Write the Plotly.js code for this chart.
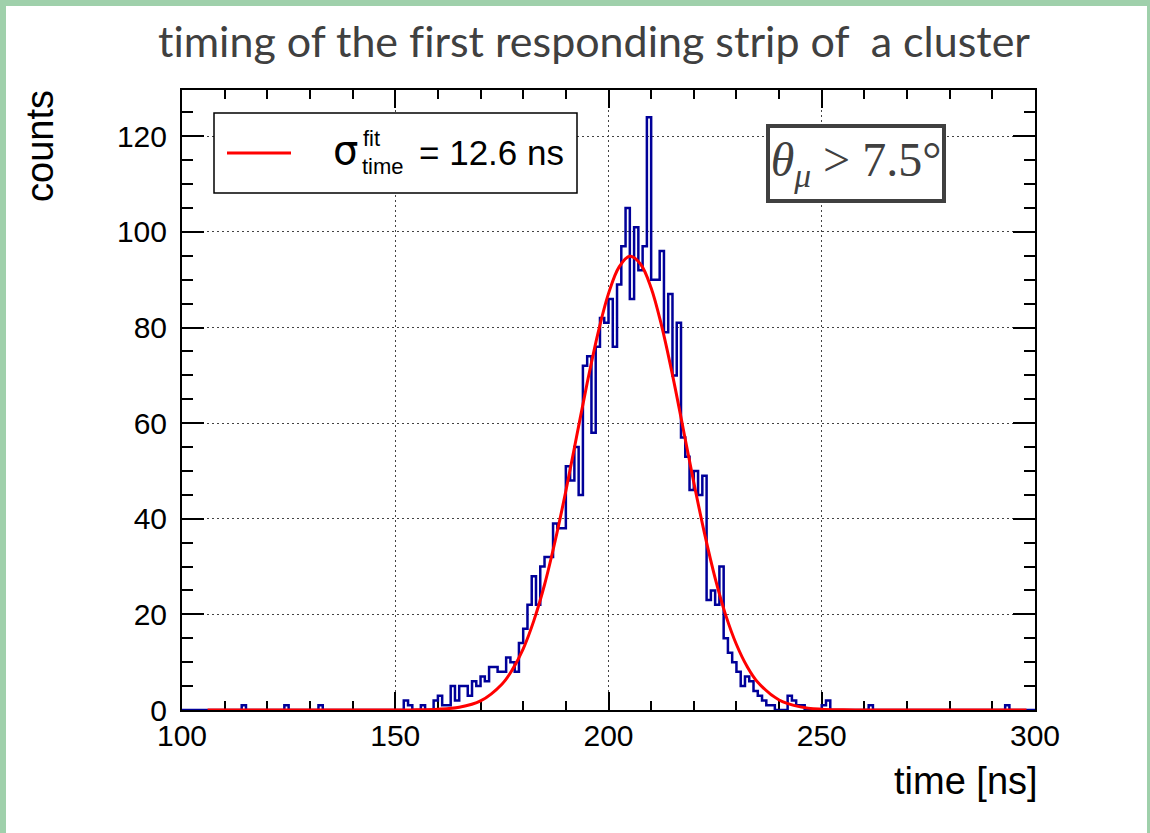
<!DOCTYPE html>
<html>
<head>
<meta charset="utf-8">
<script src="https://cdn.plot.ly/plotly-3.0.1.min.js"></script>
<style>
html,body{margin:0;padding:0;background:#fff;}
body{width:1150px;height:833px;overflow:hidden;position:relative;}
#plot{position:absolute;left:0;top:0;width:1150px;height:833px;}
#plot svg text{font-variant-ligatures:none;font-feature-settings:"liga" 0;}
#slide{position:absolute;left:0;top:0;width:1150px;height:833px;box-sizing:border-box;
  border-top:6px solid #9fd0ab;border-left:6px solid #9fd0ab;border-right:3px solid #9fd0ab;pointer-events:none;z-index:5;}
</style>
</head>
<body>
<div id="plot"></div>
<div id="slide"></div>
<script>
// ---- data ----
// lower edge (ns) of every non-empty 1 ns bin, and its count
const binLow = [114,124,132,152,153,156,159,160,161,162,163,164,165,166,167,168,169,170,171,172,173,174,175,176,177,178,179,
  180,181,182,183,184,185,186,187,188,189,190,191,192,193,194,195,196,197,198,199,
  200,201,202,203,204,205,206,207,208,209,210,211,212,213,214,215,216,217,218,219,
  220,221,222,223,224,225,226,227,228,229,230,231,232,233,234,235,236,237,238,
  242,243,244,245,250,251,261,293];
const binCounts = [1,1,1,2,1,1,2,3,1,1,5,2,5,5,3,6,5,7,6,9,9,8,8,11,10,8,14,
  17,22,28,22,30,32,32,39,38,38,51,48,55,45,72,74,58,76,82,81,
  86,76,89,97,105,86,101,92,97,124,90,90,96,79,87,70,81,57,53,46,
  50,45,49,23,25,22,30,15,12,10,8,5,7,6,4,3,2,1,1,
  3,2,1,1,1,2,1,1];
const binWidth = 1;
const histMin = 100, histMax = 300;

// Gaussian fit curve
const fitTime   = [106,150,155,160,165,170,175,177.5,180,182.5,185,187.5,190,192.5,195,197.5,200,202.5,205,207.5,210,212.5,215,217.5,220,222.5,225,227.5,230,232.5,235,240,245,250,255,260,298];
const fitCounts = [0,0,0.04,0.15,0.58,1.9,5.4,8.5,12.8,18.7,26.2,35.4,45.8,57.1,68.4,78.7,87.1,92.7,94.9,93.3,88.3,80.2,70.1,58.9,47.6,37.0,27.6,19.8,13.7,9.1,5.8,2.1,0.65,0.17,0.04,0,0];

const xTickVals = [100,150,200,250,300];
const xTickText = ['100','150','200','250','300'];
const yTickVals = [0,20,40,60,80,100,120];
const yTickText = ['0','20','40','60','80','100','120'];

const titleText = 'timing of the first responding strip of \u00a0a cluster';
const xTitle = 'time [ns]';
const yTitle = 'counts';
const legendSigma = 'σ', legendSup = 'fit', legendSub = 'time', legendValue = '= 12.6 ns';
const cutText = '<i>θ</i><sub><i>μ</i></sub> &gt; 7.5°';

// ---- build histogram outline ----
const nBins = Math.round((histMax - histMin) / binWidth);
const full = new Array(nBins).fill(0);
binLow.forEach((b, i) => { full[Math.round((b - histMin) / binWidth)] = binCounts[i]; });
const hx = [], hy = [];
for (let k = 0; k <= nBins; k++) {
  hx.push(histMin + k * binWidth);
  hy.push(k < nBins ? full[k] : full[nBins - 1]);
}

// minor tick positions
const xMinor = [], yMinor = [];
for (let v = 100; v <= 300; v += 10) xMinor.push(v);
for (let v = 0; v <= 125; v += 5) yMinor.push(v);

// ---- pixel frame ----
const W = 1150, H = 833, L = 182, R = 1035, T = 90, B = 710;
const px = v => (v - L) / (R - L);
const py = v => (B - v) / (B - T);

const axisFont = {family: 'Liberation Sans, Arial, sans-serif', size: 30, color: 'black'};

const traces = [
  {x: hx, y: hy, type: 'scatter', mode: 'lines', line: {shape: 'hv', color: '#000099', width: 2.5}, hoverinfo: 'skip'},
  {x: fitTime, y: fitCounts, type: 'scatter', mode: 'lines', line: {shape: 'spline', smoothing: 1, color: '#ff0000', width: 3}, hoverinfo: 'skip'}
];

const layout = {
  width: W, height: H,
  margin: {l: L, r: W - R, t: T, b: H - B, pad: 0},
  paper_bgcolor: 'rgba(0,0,0,0)', plot_bgcolor: 'white',
  showlegend: false,
  xaxis: {
    range: [histMin, histMax], tickmode: 'array', tickvals: xTickVals, ticktext: xTickText,
    ticks: 'inside', ticklen: 18, tickwidth: 2, tickcolor: 'black',
    showline: true, linewidth: 2, linecolor: 'black', mirror: 'ticks',
    showgrid: true, gridcolor: '#444', gridwidth: 1, griddash: '2px,3px',
    zeroline: false, layer: 'below traces',
    minor: {tickmode: 'array', tickvals: xMinor, ticks: 'inside', ticklen: 9, tickwidth: 2, tickcolor: 'black', showgrid: false},
    tickfont: axisFont, ticklabelstandoff: -2, fixedrange: true
  },
  yaxis: {
    range: [0, 129.7], tickmode: 'array', tickvals: yTickVals, ticktext: yTickText,
    ticks: 'inside', ticklen: 22, tickwidth: 2, tickcolor: 'black',
    showline: true, linewidth: 2, linecolor: 'black', mirror: 'ticks',
    showgrid: true, gridcolor: '#444', gridwidth: 1, griddash: '2px,3px',
    zeroline: false, layer: 'below traces',
    minor: {tickmode: 'array', tickvals: yMinor, ticks: 'inside', ticklen: 11, tickwidth: 2, tickcolor: 'black', showgrid: false},
    tickfont: axisFont, ticklabelstandoff: 7, fixedrange: true
  },
  shapes: [
    {type: 'rect', xref: 'paper', yref: 'paper', x0: px(214), x1: px(577), y0: py(193), y1: py(113),
     line: {color: 'black', width: 1.5}, fillcolor: 'white', layer: 'above'},
    {type: 'line', xref: 'paper', yref: 'paper', x0: px(227), x1: px(291), y0: py(153), y1: py(153),
     line: {color: '#ff0000', width: 3}, layer: 'above'}
  ],
  annotations: [
    {text: titleText, xref: 'paper', yref: 'paper', x: px(156), y: py(40), xanchor: 'left', yanchor: 'middle',
     showarrow: false, font: {family: 'Lato, sans-serif', size: 43, color: '#404040'}},
    {text: yTitle, xref: 'paper', yref: 'paper', x: px(40), y: py(88), xanchor: 'center', yanchor: 'top',
     textangle: -90, showarrow: false, font: {family: 'Liberation Sans, Arial, sans-serif', size: 38, color: 'black'}},
    {text: xTitle, xref: 'paper', yref: 'paper', x: px(1040), y: py(781), xanchor: 'right', yanchor: 'middle',
     showarrow: false, font: {family: 'Liberation Sans, Arial, sans-serif', size: 38, color: 'black'}},
    {text: legendSigma, xref: 'paper', yref: 'paper', x: px(345), y: py(150), xanchor: 'center', yanchor: 'middle',
     showarrow: false, font: {family: 'DejaVu Sans, sans-serif', size: 40, color: 'black'}},
    {text: legendSup, xref: 'paper', yref: 'paper', x: px(361), y: py(139), xanchor: 'left', yanchor: 'middle',
     showarrow: false, font: {family: 'Liberation Sans, Arial, sans-serif', size: 22, color: 'black'}},
    {text: legendSub, xref: 'paper', yref: 'paper', x: px(360), y: py(166), xanchor: 'left', yanchor: 'middle',
     showarrow: false, font: {family: 'Liberation Sans, Arial, sans-serif', size: 22, color: 'black'}},
    {text: legendValue, xref: 'paper', yref: 'paper', x: px(417), y: py(152), xanchor: 'left', yanchor: 'middle',
     showarrow: false, font: {family: 'Liberation Sans, Arial, sans-serif', size: 35, color: 'black'}},
    {text: cutText, xref: 'paper', yref: 'paper', x: px(856), y: py(163.5), xanchor: 'center', yanchor: 'middle',
     showarrow: false, width: 172, height: 71, align: 'center', valign: 'middle',
     bgcolor: 'white', bordercolor: '#404040', borderwidth: 4, borderpad: 0,
     font: {family: 'Liberation Serif, DejaVu Serif, serif', size: 48, color: '#404040'}}
  ]
};

Plotly.newPlot('plot', traces, layout, {staticPlot: true, displayModeBar: false});
</script>
</body>
</html>
